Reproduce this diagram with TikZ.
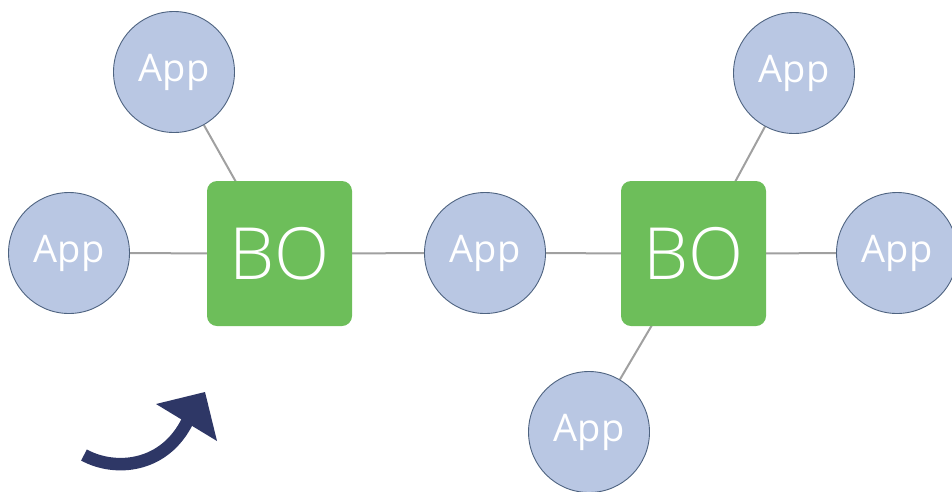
\documentclass[tikz,border=0pt]{standalone}
\usepackage{fontspec}
\setmainfont{Open Sans}
\newfontfamily\bofont{Open Sans}[UprightFont=* Light]
\usetikzlibrary{backgrounds}
\definecolor{appfill}{HTML}{B9C7E3}
\definecolor{appedge}{HTML}{4E6380}
\definecolor{bogreen}{HTML}{6DBE5A}
\definecolor{linkgray}{HTML}{A0A0A0}
\definecolor{navy}{HTML}{2E3766}
\tikzset{
  app/.style={circle, draw=appedge, line width=0.9pt, fill=appfill, minimum size=121pt,
    inner sep=0pt, text=white, font=\fontsize{38}{40}\selectfont},
  bo/.style={rectangle, rounded corners=10pt, fill=bogreen, minimum size=145pt,
    inner sep=0pt, text=white, font=\bofont\fontsize{72}{74}\selectfont},
  link/.style={draw=linkgray, line width=2pt},
}
\begin{document}
\begin{tikzpicture}[x=1pt,y=-1pt]
\useasboundingbox (0,0) rectangle (952,491);
\node[app] (a1) at (174,72) {App};
\node[app] (a2) at (69,253) {App};
\node[app] (a3) at (485,253) {App};
\node[app] (a4) at (794,73) {App};
\node[app] (a5) at (897,253) {App};
\node[app] (a6) at (589,432) {App};
\node[bo] (b1) at (279.5,253.5) {\raisebox{-3pt}{BO}};
\node[bo] (b2) at (693.5,253.5) {\raisebox{-3pt}{BO}};
% link end points on the box edges
\coordinate (b1top) at (236,182);
\coordinate (b2top) at (735,182);
\coordinate (b2bot) at (652,325);
\begin{scope}[on background layer]
\draw[link] (a1) -- (b1top);
\draw[link] (a2) -- (b1);
\draw[link] (b1) -- (a3);
\draw[link] (a3) -- (b2);
\draw[link] (b2) -- (a5);
\draw[link] (a4) -- (b2top);
\draw[link] (a6) -- (b2bot);
\end{scope}
% curved arrow
\draw[navy, line width=12.5pt] (84,455) .. controls (115,472) and (165,468) .. (188,420);
\fill[navy] (156,404) -- (205,392) -- (217,441) -- cycle;
\end{tikzpicture}
\end{document}
